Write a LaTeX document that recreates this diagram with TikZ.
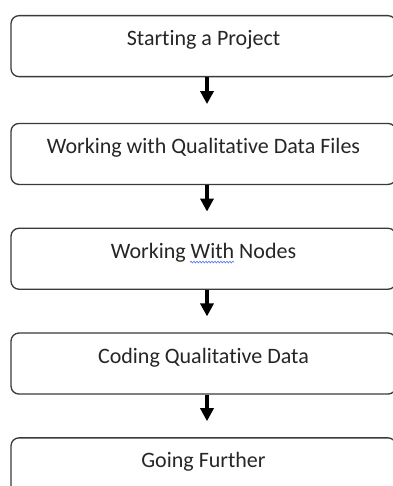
\documentclass[tikz,border=0pt]{standalone}
\usepackage{fontspec}
\setmainfont{Carlito}[Ligatures=NoCommon]
\usetikzlibrary{positioning, arrows.meta, calc, decorations.pathmorphing}
\definecolor{rand}{HTML}{3A3A3A}
\definecolor{schrift}{HTML}{262626}
\definecolor{welle}{HTML}{4A6CF7}

\begin{document}
\begin{tikzpicture}[x=1pt, y=1pt,
      schritt/.style={draw=rand, line width=1.3pt, rounded corners=8pt,
        fill=white, text=schrift, align=center, font=\fontsize{22}{26}\selectfont,
        minimum width=385pt, inner sep=0pt, text height=30pt, text depth=31pt},
      pfeil/.style={-{Triangle[width=13pt, length=13pt]}, black, line width=4pt,
        shorten >=16pt}]
    \useasboundingbox (0,0) rectangle (392,-486);
    \node[schritt, anchor=north] (a) at (203.5,-15) {Starting a Project};
    \node[schritt, below=45.5pt of a] (b) {Working with Qualitative Data Files};
    \node[schritt, below=42.5pt of b] (c) {Working With Nodes};
    \node[schritt, below=42.5pt of c] (d) {Coding Qualitative Data};
    \node[schritt, below=42.5pt of d] (e) {Going Further};
    \draw[pfeil, shorten >=18.7pt] ([xshift=3.5pt]a.south) -- ([xshift=3.5pt]b.north);
    \draw[pfeil] ([xshift=3.5pt]b.south) -- ([xshift=3.5pt]c.north);
    \draw[pfeil] ([xshift=3.5pt]c.south) -- ([xshift=3.5pt]d.north);
    \draw[pfeil] ([xshift=3.5pt]d.south) -- ([xshift=3.5pt]e.north);
    % Rechtschreib-Wellenlinie unter "With"
    \draw[welle, line width=0.6pt, decorate,
      decoration={snake, amplitude=0.8pt, segment length=3pt}]
      ($(c.north)+(-13.5,-34.5)$) -- ($(c.north)+(30.5,-34.5)$);
  \end{tikzpicture}
\end{document}
